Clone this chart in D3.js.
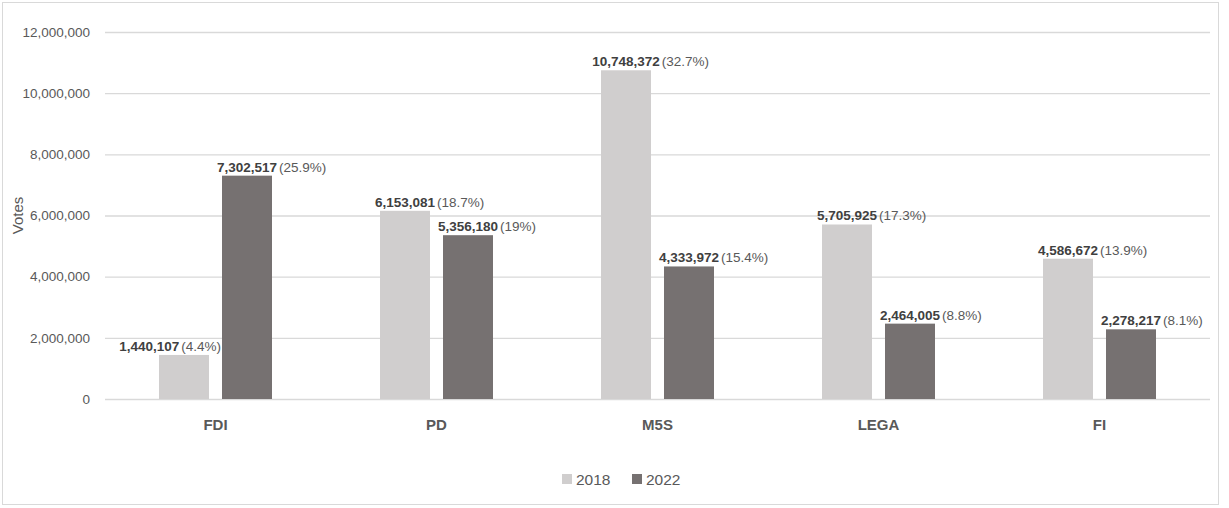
<!DOCTYPE html>
<html>
<head>
<meta charset="utf-8">
<script src="https://cdn.jsdelivr.net/npm/d3@7"></script>
<style>
  body { margin: 0; background: #fff; }
  text { font-family: "Liberation Sans", Arial, sans-serif; fill: #595959; }
</style>
</head>
<body>
<div id="chart"></div>
<script>
var width = 1229;
var height = 508;

// data
var parties = ["FDI", "PD", "M5S", "LEGA", "FI"];
var years = ["2018", "2022"];
var votes2018 = [1440107, 6153081, 10748372, 5705925, 4586672];
var votes2022 = [7302517, 5356180, 4333972, 2464005, 2278217];
var pct2018 = ["4.4%", "18.7%", "32.7%", "17.3%", "13.9%"];
var pct2022 = ["25.9%", "19%", "15.4%", "8.8%", "8.1%"];
var yTicks = [0, 2000000, 4000000, 6000000, 8000000, 10000000, 12000000];
var colors = ["#d0cece", "#767171"];

var plotLeft = 105, plotRight = 1210, plotTop = 32, plotBottom = 399;
var barW = 50, barGap = 13;

var svg = d3.select("#chart").append("svg")
    .attr("width", width)
    .attr("height", height);

svg.append("rect")
    .attr("x", 2.5).attr("y", 2.5)
    .attr("width", 1216).attr("height", 502)
    .attr("fill", "#fff")
    .attr("stroke", "#d9d9d9");

var xScale = d3.scaleBand().domain(parties).range([plotLeft, plotRight]);
var yScale = d3.scaleLinear().domain([0, 12000000]).range([plotBottom, plotTop]);

// grid lines + tick labels
var yAxis = d3.axisLeft(yScale)
    .tickValues(yTicks)
    .tickSize(-(plotRight - plotLeft))
    .tickPadding(15)
    .tickFormat(d3.format(","));
var gy = svg.append("g")
    .attr("transform", "translate(" + plotLeft + ",0)")
    .call(yAxis);
gy.select(".domain").remove();
gy.selectAll("line").attr("stroke", "#d9d9d9").attr("stroke-width", 1.3);
gy.selectAll("text")
    .style("font-size", "13.5px")
    .style("font-family", "Liberation Sans, Arial, sans-serif")
    .attr("fill", "#595959");

svg.append("text")
    .attr("transform", "translate(23," + ((plotTop + plotBottom) / 2) + ") rotate(-90)")
    .attr("text-anchor", "middle")
    .style("font-size", "15px")
    .text("Votes");

// category labels
svg.selectAll(".cat")
    .data(parties)
    .enter().append("text")
    .attr("class", "cat")
    .attr("x", function(d) { return xScale(d) + xScale.bandwidth() / 2; })
    .attr("y", 430)
    .attr("text-anchor", "middle")
    .style("font-size", "15px")
    .style("font-weight", "bold")
    .text(function(d) { return d; });

var rows = [];
parties.forEach(function(p, i) {
    rows.push({party: p, s: 0, v: votes2018[i], pct: pct2018[i], other: votes2022[i]});
    rows.push({party: p, s: 1, v: votes2022[i], pct: pct2022[i], other: null});
});

function barX(d) {
    var c = xScale(d.party) + xScale.bandwidth() / 2;
    return d.s == 0 ? c - barGap / 2 - barW : c + barGap / 2;
}

svg.selectAll(".bar")
    .data(rows)
    .enter().append("rect")
    .attr("class", "bar")
    .attr("x", barX)
    .attr("y", function(d) { return yScale(d.v); })
    .attr("width", barW)
    .attr("height", function(d) { return plotBottom - yScale(d.v); })
    .attr("fill", function(d) { return colors[d.s]; });

// data labels: bold number centred on bar, percentage after it
var labels = svg.selectAll(".lbl")
    .data(rows)
    .enter().append("text")
    .attr("class", "lbl")
    .attr("y", function(d) { return yScale(d.v) - 4; })
    .style("font-size", "13.5px");
labels.append("tspan")
    .style("font-weight", "bold")
    .attr("fill", "#404040")
    .text(function(d) { return d3.format(",")(d.v); });
labels.append("tspan")
    .attr("dx", 2)
    .text(function(d) { return "(" + d.pct + ")"; });

labels.each(function(d) {
    var t = d3.select(this);
    var numW = this.firstChild.getComputedTextLength();
    var fullW = this.getComputedTextLength() + 2;
    var x = barX(d) + barW / 2 - numW / 2;
    // push left if it would run into a taller neighbouring bar
    if (d.s == 0 && d.other > d.v) {
        var limit = barX({party: d.party, s: 1}) - 1;
        if (x + fullW > limit) x = limit - fullW;
    }
    t.attr("x", x);
});

// legend
var legend = svg.append("g").attr("transform", "translate(562,479)");
var lx = [0, 70];
years.forEach(function(y, i) {
    legend.append("rect")
        .attr("x", lx[i]).attr("y", -5)
        .attr("width", 10).attr("height", 10)
        .attr("fill", colors[i]);
    legend.append("text")
        .attr("x", lx[i] + 14).attr("y", 6)
        .style("font-size", "15.5px")
        .text(y);
});
</script>
</body>
</html>
